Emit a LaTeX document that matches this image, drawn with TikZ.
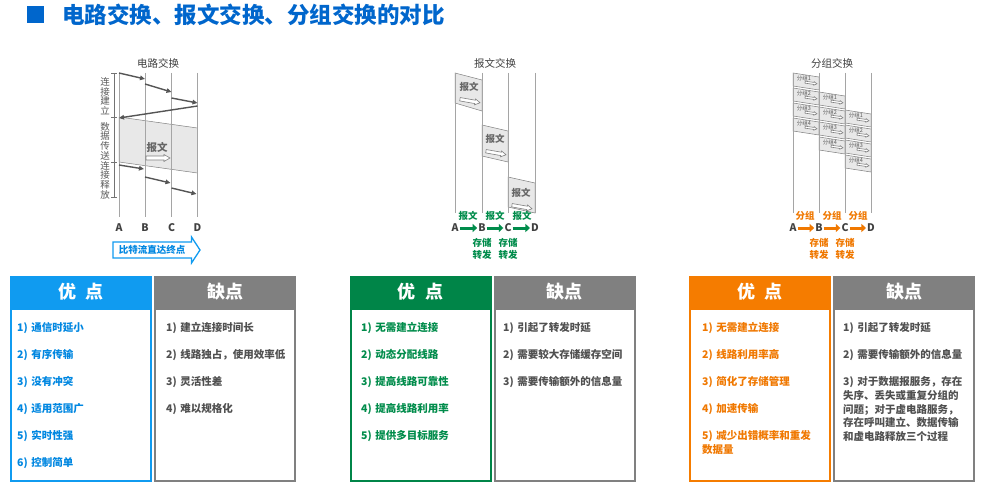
\documentclass[tikz,border=0pt]{standalone}
\usepackage{fontspec}
\setmainfont{Noto Sans CJK SC}
\usetikzlibrary{arrows.meta,positioning,calc}

\definecolor{titleblue}{RGB}{0,102,204}
\definecolor{csblue}{RGB}{16,155,240}
\definecolor{csbluetext}{RGB}{0,135,225}
\definecolor{msgreen}{RGB}{0,133,72}
\definecolor{msgreentext}{RGB}{0,140,75}
\definecolor{psorange}{RGB}{245,124,0}
\definecolor{psorangetext}{RGB}{240,120,0}
\definecolor{congray}{RGB}{128,128,128}
\definecolor{context}{RGB}{80,80,80}
\definecolor{lanegray}{RGB}{165,165,165}
\definecolor{darkarrow}{RGB}{85,85,85}

\begin{document}
\begin{tikzpicture}[
    x=1pt, y=-1pt,
    >={Triangle[length=5pt,width=4.5pt]},
    lane/.style={draw=lanegray, line width=0.8pt},
    sig/.style={->, darkarrow, line width=1.4pt},
    block/.style={draw=gray, fill=gray!18, line width=0.5pt},
    diagtitle/.style={font=\fontsize{10.5}{12}\selectfont, text=black!75},
    letter/.style={font=\fontsize{10.5}{12}\selectfont\bfseries, text=black!75, inner sep=1pt},
    tag/.style={font=\fontsize{9.5}{11}\selectfont\bfseries, inner sep=0pt},
    pkt/.style={font=\fontsize{5.5}{6}\selectfont, text=black!65, inner sep=0pt},
    fat/.style={-{Triangle[length=4.5pt,width=8pt]}, line width=3pt},
    hdr/.style={minimum width=142pt, minimum height=32pt, inner sep=0pt, text=white, font=\fontsize{18}{20}\selectfont\bfseries},
    panel/.style={line width=2pt, fill=white, minimum width=140pt, minimum height=172pt, inner sep=0pt},
    itemtxt/.style={anchor=base west, inner sep=0pt, text width=135pt, align=left, font=\fontsize{10.5}{13.7}\selectfont\bfseries},
    sidetxt/.style={align=center, inner sep=0pt, text=black!65, font=\fontsize{9.5}{9.6}\selectfont},
    msgarrow/.pic={\draw[gray, fill=white, line width=0.6pt] (-12,-2) -- (6,-2) -- (6,-3.5) -- (12,0) -- (6,3.5) -- (6,2) -- (-12,2) -- cycle;}
  ]
  \useasboundingbox (0,0) rectangle (1003,492);
  \fill[white] (0,0) rectangle (1003,492);

  % Titel
  \node[fill=titleblue, minimum size=17pt, inner sep=0pt] (mark) at (35.5,14.5) {};
  \node[right=18pt of mark, inner sep=0pt, text=titleblue, font=\fontsize{22.5}{25}\selectfont\bfseries] (title) {电路交换、报文交换、分组交换的对比};

  % 电路交换
  \node[diagtitle] (cs-title) at (158,63) {电路交换};
  \filldraw[block] (119,117) -- (197.5,128) -- (197.5,173) -- (119,162) -- cycle;
  \foreach \x/\n in {119/A,145/B,171.5/C,197.5/D}{
    \draw[lane] (\x,73) -- (\x,217);
    \node[letter] (cs-\n) at (\x,228) {\n};
  }
  \draw[sig] (119,73) -- (145,79);
  \draw[sig] (145,84) -- (171.5,92);
  \draw[sig] (171.5,98) -- (197.5,103);
  \draw[sig] (197.5,106) -- (119,118);
  \draw[sig] (119,165) -- (144,169);
  \draw[sig] (145,177) -- (170.5,183);
  \draw[sig] (171.5,188) -- (196.5,194);
  \node[font=\fontsize{10.5}{12}\selectfont\bfseries, text=black!60] (cs-msg) at (157,147) {报文};
  \pic at (158,158) {msgarrow};

  \draw[black!55, line width=0.6pt] (114,73) -- (114,197);
  \foreach \y in {73,117,162,197}
    \draw[black!55, line width=0.6pt] (111,\y) -- (117,\y);
  \node[sidetxt] (cs-setup) at (105,96) {连\\接\\建\\立};
  \node[sidetxt] (cs-data) at (105,141) {数\\据\\传\\送};
  \node[sidetxt] (cs-release) at (105,180) {连\\接\\释\\放};

  \draw[draw=csblue, fill=white, line width=1.3pt] (113,242) -- (191.5,242) -- (191.5,237) -- (200,250) -- (191.5,263) -- (191.5,258) -- (113,258) -- cycle;
  \node[font=\fontsize{9.5}{11}\selectfont\bfseries, text=csbluetext, inner sep=0pt] (cs-stream) at (152,250) {比特流直达终点};

  % 报文交换
  \node[diagtitle] (ms-title) at (495,63) {报文交换};
  \filldraw[block] (455,73) -- (482,80) -- (482,111) -- (455,103) -- cycle;
  \filldraw[block] (482,125) -- (508,131) -- (508,162) -- (482,156) -- cycle;
  \filldraw[block] (508,177) -- (535,183) -- (535,213) -- (508,207) -- cycle;
  \foreach \x/\n in {455/A,482/B,508/C,535/D}{
    \draw[lane] (\x,73) -- (\x,213);
    \node[letter] (ms-\n) at (\x,228) {\n};
  }
  \foreach \x/\y [count=\k] in {469/87,495/139,521/193}{
    \node[font=\fontsize{9.5}{11}\selectfont\bfseries, text=black!60] (ms-msg-\k) at (\x,\y) {报文};
    \pic[rotate=-10, scale=0.85] at (\x+1,\y+14) {msgarrow};
  }
  \draw[fat, msgreentext] (ms-A) -- (ms-B);
  \draw[fat, msgreentext] (ms-B) -- (ms-C);
  \draw[fat, msgreentext] (ms-C) -- (ms-D);
  \foreach \x [count=\k] in {468,495,522}
    \node[tag, text=msgreentext] (ms-tag-\k) at (\x,216) {报文};
  \foreach \n in {B,C}{
    \node[tag, text=msgreentext, below=5pt of ms-\n] (ms-store-\n) {存储};
    \node[tag, text=msgreentext, below=2pt of ms-store-\n] (ms-fwd-\n) {转发};
  }

  % 分组交换
  \node[diagtitle] (ps-title) at (832,63) {分组交换};
  \foreach \x/\t in {793/73,819/92,845/110}{
    \foreach \n in {1,...,4}{
      \pgfmathsetmacro\ptop{\t+15*(\n-1)}
      \filldraw[block] (\x,\ptop) -- (\x+26,\ptop+4) -- (\x+26,\ptop+17) -- (\x,\ptop+13) -- cycle;
      \node[pkt] (ps-\x-\n) at (\x+11,\ptop+5) {分组\n};
      \pic[scale=0.5, rotate=-8] at (\x+18,\ptop+10) {msgarrow};
    }
  }
  \foreach \x/\n in {793/A,819/B,845/C,871/D}{
    \draw[lane] (\x,73) -- (\x,213);
    \node[letter] (ps-\n) at (\x,228) {\n};
  }
  \draw[fat, psorangetext] (ps-A) -- (ps-B);
  \draw[fat, psorangetext] (ps-B) -- (ps-C);
  \draw[fat, psorangetext] (ps-C) -- (ps-D);
  \foreach \x [count=\k] in {805,832,858}
    \node[tag, text=psorangetext] (ps-tag-\k) at (\x,216) {分组};
  \foreach \n in {B,C}{
    \node[tag, text=psorangetext, below=5pt of ps-\n] (ps-store-\n) {存储};
    \node[tag, text=psorangetext, below=2pt of ps-store-\n] (ps-fwd-\n) {转发};
  }

  % Tabellen
  \node[hdr, fill=csblue] (cs-pro) at (81,292) {优\hspace{0.55em}点};
  \node[panel, draw=csblue, below=0pt of cs-pro] (cs-pro-box) {};
  \node[hdr, fill=congray] (cs-con) at (225,292) {缺点};
  \node[panel, draw=congray, below=0pt of cs-con] (cs-con-box) {};

  \node[hdr, fill=msgreen] (ms-pro) at (420.5,292) {优\hspace{0.55em}点};
  \node[panel, draw=msgreen, below=0pt of ms-pro] (ms-pro-box) {};
  \node[hdr, fill=congray] (ms-con) at (564.5,292) {缺点};
  \node[panel, draw=congray, below=0pt of ms-con] (ms-con-box) {};

  \node[hdr, fill=psorange] (ps-pro) at (760,292) {优\hspace{0.55em}点};
  \node[panel, draw=psorange, below=0pt of ps-pro] (ps-pro-box) {};
  \node[hdr, fill=congray] (ps-con) at (904,292) {缺点};
  \node[panel, draw=congray, below=0pt of ps-con] (ps-con-box) {};

  \foreach \t [count=\k] in {1) 通信时延小, 2) 有序传输, 3) 没有冲突, 4) 适用范围广, 5) 实时性强, 6) 控制简单}
    \node[itemtxt, text=csbluetext] (cs-pro-\k) at (17,{331.6+27*(\k-1)}) {\t};
  \foreach \t [count=\k] in {1) 建立连接时间长, 2) 线路独占，使用效率低, 3) 灵活性差, 4) 难以规格化}
    \node[itemtxt, text=context] (cs-con-\k) at (166,{331.6+27*(\k-1)}) {\t};

  \foreach \t [count=\k] in {1) 无需建立连接, 2) 动态分配线路, 3) 提高线路可靠性, 4) 提高线路利用率, 5) 提供多目标服务}
    \node[itemtxt, text=msgreentext] (ms-pro-\k) at (361,{331.6+27*(\k-1)}) {\t};
  \foreach \t [count=\k] in {1) 引起了转发时延, 2) 需要较大存储缓存空间, 3) 需要传输额外的信息量}
    \node[itemtxt, text=context] (ms-con-\k) at (503,{331.6+27*(\k-1)}) {\t};

  \foreach \t [count=\k] in {1) 无需建立连接, 2) 线路利用率高, 3) 简化了存储管理, 4) 加速传输, {5)~减少出错概率和重发\\数据量}}
    \node[itemtxt, text=psorangetext] (ps-pro-\k) at (702,{331.6+27*(\k-1)}) {\t};
  \foreach \t [count=\k] in {1) 引起了转发时延, 2) 需要传输额外的信息量, {3) 对于数据报服务，存在\\失序、丢失或重复分组的\\问题；对于虚电路服务，\\存在呼叫建立、数据传输\\和虚电路释放三个过程}}
    \node[itemtxt, text=context] (ps-con-\k) at (843,{331.6+27*(\k-1)}) {\t};
\end{tikzpicture}
\end{document}
